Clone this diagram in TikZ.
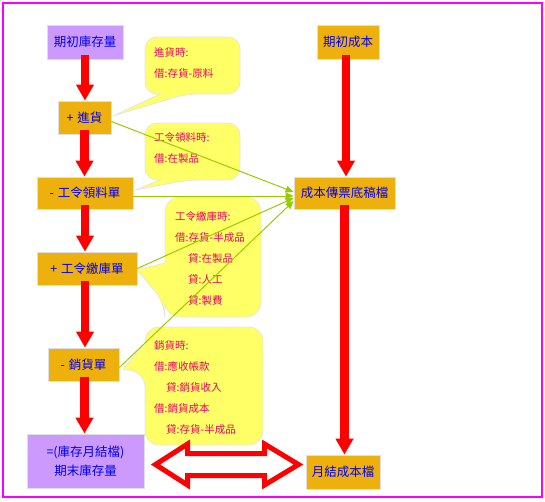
\documentclass[tikz,border=0pt]{standalone}
\usepackage{fontspec}
\setmainfont{Noto Sans CJK TC}
\usetikzlibrary{arrows.meta}
\definecolor{boxorange}{HTML}{EEB00C}
\definecolor{boxpurple}{HTML}{CC99FF}
\definecolor{callyellow}{HTML}{FFFF66}
\definecolor{calltext}{HTML}{F00064}
\definecolor{linkgreen}{HTML}{99CC00}
\definecolor{framemag}{HTML}{FF00FF}
\definecolor{nodetext}{HTML}{0000EE}
\begin{document}
\begin{tikzpicture}[x=1pt,y=-1pt,
 box/.style={draw=gray!25, line width=0.8pt, text=nodetext, font=\fontsize{12.5}{19}\selectfont, inner sep=0pt, align=center},
 orangebox/.style={box, fill=boxorange},
 purplebox/.style={box, fill=boxpurple},
 bigarrow/.style={draw=red, line width=8.5pt, -{Triangle[width=17pt,length=16pt]}},
 callout/.style={fill=callyellow, draw=gray!20, line width=0.8pt},
 calltextstyle/.style={anchor=north west, inner sep=0pt, text=calltext, align=left, font=\fontsize{10.5}{21}\selectfont},
 feed/.style={draw=linkgreen, line width=1pt, -{Triangle[width=7pt,length=8pt]}},
 blockarrow/.style={draw=red, line width=5pt, fill=white, line join=miter}
]
\useasboundingbox (0,0) rectangle (545,501);
\draw[framemag, line width=1.5pt] (3,3) rectangle (542,497);

% callouts
\path[callout] (145,65) [rounded corners=12pt] -- (145,37) -- (240,37) -- (240,94) -- (186,94) [sharp corners] -- (113,116) -- (160,94) [rounded corners=12pt] -- (145,94) -- cycle;
\path[callout] (145,150) [rounded corners=12pt] -- (145,123) -- (240,123) -- (240,180) -- (188,180) [sharp corners] -- (135,190) -- (160,180) [rounded corners=12pt] -- (145,180) -- cycle;
\path[callout] (200,197) [rounded corners=15pt] -- (261,197) -- (261,317) -- (165,317) -- (165,303) [sharp corners] -- (137,270) -- (165,263) [rounded corners=15pt] -- (165,197) -- cycle;
\path[callout] (200,327) [rounded corners=14pt] -- (263,327) -- (263,445) -- (145,445) -- (145,373) [sharp corners] -- (123,369) -- (145,343) [rounded corners=14pt] -- (145,327) -- cycle;

\node[calltextstyle] (t1) at (154,47) {進貨時:\\借:存貨-原料};
\node[calltextstyle] (t2) at (154,132) {工令領料時:\\借:在製品};
\node[calltextstyle] (t3) at (175,211) {工令繳庫時:\\借:存貨-半成品\\\hspace*{13pt}貸:在製品\\\hspace*{13pt}貸:人工\\\hspace*{13pt}貸:製費};
\node[calltextstyle] (t4) at (154,340) {銷貨時:\\借:應收帳款\\\hspace*{12pt}貸:銷貨收入\\借:銷貨成本\\\hspace*{12pt}貸:存貨-半成品};

% nodes
\node[purplebox, minimum width=76pt, minimum height=34pt] (n1) at (85,42) {期初庫存量};
\node[orangebox, minimum width=53pt, minimum height=33pt] (n2) at (84.5,117.5) {+\hspace{4pt}進貨};
\node[orangebox, minimum width=96pt, minimum height=32pt] (n3) at (85,193) {-\hspace{4pt}工令領料單};
\node[orangebox, minimum width=100pt, minimum height=33pt] (n4) at (87,268.5) {+\hspace{4pt}工令繳庫單};
\node[orangebox, minimum width=71pt, minimum height=33pt] (n5) at (83.5,364.5) {-\hspace{4pt}銷貨單};
\node[purplebox, minimum width=117pt, minimum height=54pt] (n6) at (85.5,461) {=(庫存月結檔)\\期末庫存量};
\node[orangebox, minimum width=62pt, minimum height=34pt] (m1) at (348,42) {期初成本};
\node[orangebox, minimum width=101pt, minimum height=32pt] (m2) at (344.5,193) {成本傳票底稿檔};
\node[orangebox, minimum width=74pt, minimum height=34pt] (m3) at (343,472) {月結成本檔};

% green feeds
\draw[feed] ([yshift=-4pt]n2.east) -- ([yshift=1pt]m2.west);
\draw[feed] ([yshift=-3pt]n3.east) -- ([yshift=-3pt]m2.west);
\draw[feed] (n4.east) -- ([yshift=-5pt]m2.west);
\draw[feed] ([yshift=-3pt]n5.east) -- ([yshift=-8pt]m2.west);

% red flow arrows
\draw[bigarrow] ([yshift=4pt]n1.south) -- (n1.south |- n2.north);
\draw[bigarrow] ([yshift=4pt]n2.south) -- (n2.south |- n3.north);
\draw[bigarrow] ([yshift=4pt]n3.south) -- (n3.south |- n4.north);
\draw[bigarrow] ([xshift=-2pt,yshift=4pt]n4.south) -- ([xshift=-2pt]n4.south |- n5.north);
\draw[bigarrow] ([xshift=1pt,yshift=4pt]n5.south) -- ([xshift=1pt]n5.south |- n6.north);
\draw[bigarrow] ([xshift=-2pt,yshift=4pt]m1.south) -- ([xshift=-2pt]m1.south |- m2.north);
\draw[bigarrow] ([yshift=4pt]m2.south) -- (m2.south |- m3.north);

% double block arrow
\coordinate (dl) at (155.5,464.5);
\coordinate (dr) at (298.5,464.5);
\draw[blockarrow] (dl) -- (187.5,444) -- (187.5,453.5) -- (264.5,453.5) -- (264.5,444) -- (dr) -- (264.5,485) -- (264.5,475.5) -- (187.5,475.5) -- (187.5,485) -- cycle;
\end{tikzpicture}
\end{document}
